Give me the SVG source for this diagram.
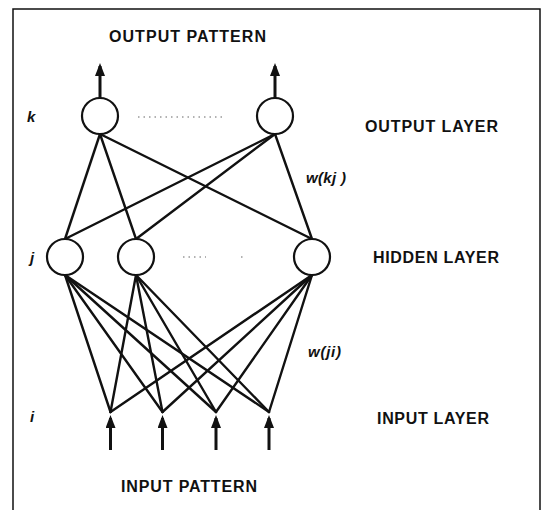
<svg xmlns="http://www.w3.org/2000/svg" width="542" height="510" viewBox="0 0 542 510">
<style>
.lbl{font-family:"Liberation Sans",Arial,sans-serif;font-weight:bold;font-size:16px;fill:#111}
.var{font-family:"Liberation Sans",Arial,sans-serif;font-weight:bold;font-style:italic;font-size:15px;fill:#111}
.node{fill:#fff;stroke:#111;stroke-width:2.2}
.edge{stroke:#111;stroke-width:2.4;fill:none;stroke-linecap:round}
.io{stroke:#111;stroke-width:3;fill:none}
.dots{stroke:#999;stroke-width:1.3;stroke-dasharray:1.5 4;fill:none}
</style>
<defs>
<marker id="ah" markerUnits="userSpaceOnUse" markerWidth="14" markerHeight="11" refX="10" refY="5" orient="auto">
<path d="M0,0 L13,5 L0,10 z" fill="#111"/>
</marker>
</defs>
<rect x="13" y="9" width="527" height="510" fill="none" stroke="#111" stroke-width="1.5"/>
<g id="connectors">
<line class="edge" x1="100" y1="134" x2="65" y2="239"/>
<line class="edge" x1="100" y1="134" x2="136" y2="239"/>
<line class="edge" x1="100" y1="134" x2="312" y2="239"/>
<line class="edge" x1="275" y1="134" x2="65" y2="239"/>
<line class="edge" x1="275" y1="134" x2="136" y2="239"/>
<line class="edge" x1="275" y1="134" x2="312" y2="239"/>
<line class="edge" x1="65" y1="275" x2="110.5" y2="412"/>
<line class="edge" x1="65" y1="275" x2="162.5" y2="412"/>
<line class="edge" x1="65" y1="275" x2="216" y2="412"/>
<line class="edge" x1="65" y1="275" x2="269" y2="412"/>
<line class="edge" x1="136" y1="275" x2="110.5" y2="412"/>
<line class="edge" x1="136" y1="275" x2="162.5" y2="412"/>
<line class="edge" x1="136" y1="275" x2="216" y2="412"/>
<line class="edge" x1="136" y1="275" x2="269" y2="412"/>
<line class="edge" x1="312" y1="275" x2="110.5" y2="412"/>
<line class="edge" x1="312" y1="275" x2="162.5" y2="412"/>
<line class="edge" x1="312" y1="275" x2="216" y2="412"/>
<line class="edge" x1="312" y1="275" x2="269" y2="412"/>
<line class="io" x1="100" y1="98" x2="100" y2="66" marker-end="url(#ah)"/>
<line class="io" x1="275" y1="98" x2="275" y2="66" marker-end="url(#ah)"/>
<line class="io" x1="110.5" y1="450" x2="110.5" y2="418" marker-end="url(#ah)"/>
<line class="io" x1="162.5" y1="450" x2="162.5" y2="418" marker-end="url(#ah)"/>
<line class="io" x1="216" y1="450" x2="216" y2="418" marker-end="url(#ah)"/>
<line class="io" x1="269" y1="450" x2="269" y2="418" marker-end="url(#ah)"/>
<line class="dots" x1="138" y1="117" x2="226" y2="117"/>
<path class="dots" d="M183,257 H206 M241,257 H243"/>
</g>
<g id="out1"><circle class="node" cx="100" cy="116" r="18"/></g>
<g id="out2"><circle class="node" cx="275" cy="116" r="18"/></g>
<g id="hid1"><circle class="node" cx="65" cy="257" r="18"/></g>
<g id="hid2"><circle class="node" cx="136" cy="257" r="18"/></g>
<g id="hid3"><circle class="node" cx="312" cy="257" r="18"/></g>
<g id="labels">
<text class="lbl" x="109" y="42" textLength="157">OUTPUT PATTERN</text>
<text class="lbl" x="365" y="131.5" textLength="133">OUTPUT LAYER</text>
<text class="lbl" x="373" y="263" textLength="126">HIDDEN LAYER</text>
<text class="lbl" x="377" y="423.5" textLength="112">INPUT LAYER</text>
<text class="lbl" x="121" y="492" textLength="136">INPUT PATTERN</text>
<text class="var" x="27" y="122">k</text>
<text class="var" x="30" y="263">j</text>
<text class="var" x="30" y="422">i</text>
<text class="var" x="306" y="183" textLength="40">w(kj )</text>
<text class="var" x="308" y="357" textLength="33">w(ji)</text>
</g>
</svg>
